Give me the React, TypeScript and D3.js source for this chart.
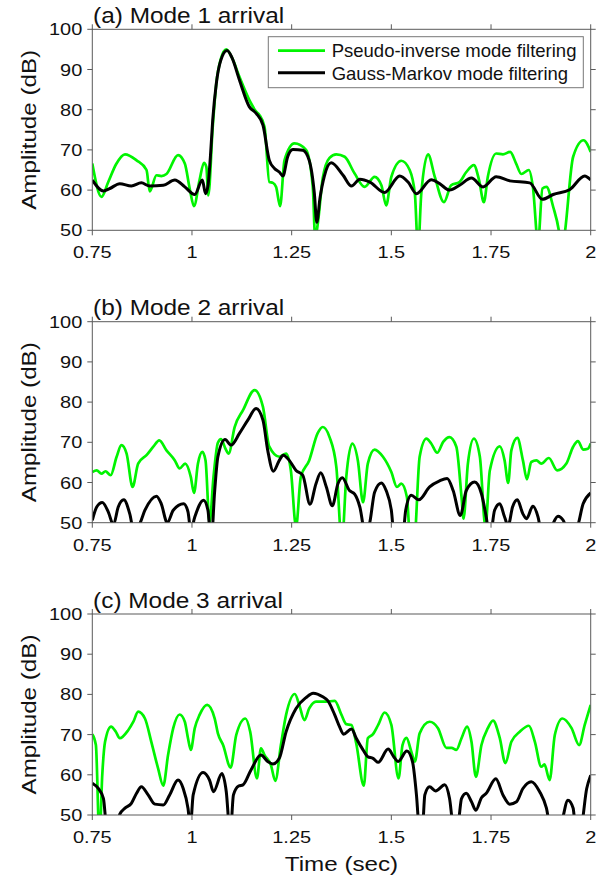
import React from "react";
import * as d3 from "d3";

type P = [number, number];

const xTicks = [0.75, 1, 1.25, 1.5, 1.75, 2];
const xTickLabels = ["0.75", "1", "1.25", "1.5", "1.75", "2"];
const yTicks = [50, 60, 70, 80, 90, 100];
const panelTitles = ["(a) Mode 1 arrival", "(b) Mode 2 arrival", "(c) Mode 3 arrival"];
const seriesNames = ["Pseudo-inverse mode filtering", "Gauss-Markov mode filtering"];

const aPseudo: P[] = [[0.75,66.6],[0.773,58.3],[0.79,62],[0.81,66.5],[0.832,68.9],[0.861,67.4],[0.886,65],[0.894,59.7],[0.911,63.7],[0.923,63.5],[0.936,64],[0.965,68.7],[0.982,66.6],[0.995,60],[1.005,56],[1.019,62.5],[1.03,66.8],[1.036,65.8],[1.041,58.7],[1.052,75.7],[1.061,86.5],[1.072,92.5],[1.086,95],[1.1,93],[1.119,88.2],[1.148,81.6],[1.161,79.5],[1.169,78.7],[1.182,75.7],[1.194,62],[1.203,61.8],[1.211,60.8],[1.221,56],[1.232,67.4],[1.257,71.6],[1.286,70],[1.303,60.8],[1.309,48],[1.316,52],[1.328,63],[1.345,68],[1.362,68.9],[1.383,68.3],[1.408,64.1],[1.433,60.8],[1.458,63.3],[1.475,61.2],[1.487,56.2],[1.5,63.3],[1.525,67.3],[1.546,65],[1.559,59.1],[1.567,45],[1.575,59],[1.592,68.9],[1.609,63.3],[1.632,57],[1.65,61.2],[1.671,62],[1.688,64.5],[1.707,66.2],[1.72,62.5],[1.732,57],[1.742,63.3],[1.763,69.1],[1.78,68.9],[1.798,69.5],[1.813,66.6],[1.826,64],[1.845,65],[1.855,60.8],[1.868,47],[1.879,60.4],[1.889,60.8],[1.906,55.8],[1.92,50],[1.928,44],[1.936,50],[1.956,68.3],[1.982,72.4],[2.0,69.5]];
const aGauss: P[] = [[0.75,62.5],[0.778,59.8],[0.794,60.4],[0.819,61.6],[0.848,61],[0.873,61.8],[0.894,61],[0.928,61.2],[0.957,62.5],[0.982,60.8],[1.007,58.9],[1.026,62.5],[1.034,59.1],[1.04,61],[1.046,68],[1.052,77.4],[1.061,86.5],[1.072,92.2],[1.088,94.7],[1.1,93],[1.119,87.4],[1.144,80.7],[1.161,79.1],[1.178,76.2],[1.194,67.4],[1.207,65.4],[1.219,64.5],[1.228,63.5],[1.24,68.3],[1.253,70.1],[1.278,69.9],[1.294,67.4],[1.307,59.1],[1.313,52],[1.321,58],[1.332,63.5],[1.349,66.8],[1.379,63.7],[1.4,61],[1.421,62.7],[1.446,62],[1.483,59.4],[1.521,63.5],[1.542,62],[1.563,59.1],[1.6,62.6],[1.621,61.6],[1.646,60],[1.671,61.2],[1.701,63],[1.73,60.8],[1.763,63.3],[1.797,62.3],[1.847,61.8],[1.879,57.7],[1.906,58.9],[1.947,60.1],[1.985,63.5],[2.0,62.5]];

const bPseudo: P[] = [[0.75,62.6],[0.761,63],[0.773,62.2],[0.783,62.8],[0.796,61.8],[0.811,66.4],[0.823,69.3],[0.836,67.2],[0.851,58.9],[0.865,64.7],[0.886,66.8],[0.903,68.9],[0.918,70.5],[0.936,68],[0.957,65.5],[0.969,63.5],[0.983,64.7],[0.997,61.4],[1.005,57.4],[1.015,64.7],[1.026,67.6],[1.034,65.5],[1.044,50],[1.054,61.4],[1.065,69.9],[1.073,70.8],[1.084,68.4],[1.092,67.2],[1.107,73.8],[1.128,78],[1.157,83],[1.178,78.8],[1.194,68.9],[1.219,66.4],[1.236,67.2],[1.248,63],[1.261,49],[1.273,61.4],[1.294,65.5],[1.315,72.2],[1.328,73.8],[1.345,71.3],[1.362,63.9],[1.376,45],[1.387,61.4],[1.402,69.7],[1.416,65.5],[1.429,55.1],[1.441,64.7],[1.458,68.2],[1.479,66.4],[1.5,62.6],[1.514,58.9],[1.525,59.7],[1.539,56.4],[1.548,45],[1.557,45],[1.571,66.4],[1.588,70.9],[1.6,69.7],[1.615,67.4],[1.63,70.1],[1.646,71.3],[1.663,68.9],[1.676,56.4],[1.681,51],[1.692,64.7],[1.707,70.9],[1.722,66.4],[1.736,49],[1.747,63],[1.772,69],[1.784,65.5],[1.793,59.9],[1.801,68],[1.816,71.1],[1.83,65.5],[1.84,60.8],[1.851,65.1],[1.864,65.5],[1.876,64.7],[1.895,66.1],[1.916,63],[1.939,64.7],[1.956,68.9],[1.968,70.3],[1.981,68.2],[1.993,68.4],[2.0,69.7]];
const bGauss: P[] = [[0.75,50.6],[0.761,53.9],[0.775,55],[0.79,52.7],[0.803,49.5],[0.815,53.9],[0.829,55.7],[0.844,52.2],[0.854,48],[0.868,49.5],[0.882,53.1],[0.911,56.6],[0.923,54.7],[0.938,50],[0.953,53.1],[0.979,54.7],[0.99,52.7],[0.997,48],[1.007,51.4],[1.029,55.6],[1.04,53.1],[1.048,45],[1.057,58],[1.065,66.4],[1.083,70.7],[1.098,69.3],[1.119,72.2],[1.14,75.5],[1.161,78.4],[1.178,75.5],[1.19,68],[1.204,62.8],[1.219,65.5],[1.229,66.8],[1.244,65.5],[1.261,63],[1.278,61.8],[1.296,54.6],[1.311,59.7],[1.323,62.4],[1.337,58.9],[1.352,54.2],[1.366,59.7],[1.377,61.2],[1.395,58],[1.408,57.1],[1.421,53.9],[1.437,46],[1.447,50.6],[1.458,57.6],[1.475,59.9],[1.487,58],[1.5,53.1],[1.508,46],[1.528,46],[1.536,53.1],[1.55,56.8],[1.569,55.7],[1.596,58.9],[1.621,60.4],[1.64,61],[1.655,58],[1.673,51.8],[1.688,58],[1.709,60.1],[1.726,57.2],[1.738,51.4],[1.747,46],[1.759,53.1],[1.772,54.7],[1.784,51.4],[1.793,49.3],[1.804,53.9],[1.816,55.7],[1.83,52.2],[1.839,51],[1.855,54.1],[1.868,51.4],[1.876,48],[1.897,48.5],[1.918,51.6],[1.931,50.6],[1.943,48],[1.964,48.5],[1.981,54.7],[2.0,57.4]];

const cPseudo: P[] = [[0.75,70.1],[0.759,67.4],[0.768,44],[0.775,60],[0.782,68.2],[0.797,72],[0.809,70.7],[0.819,69.1],[0.84,71.1],[0.853,73.2],[0.865,75.7],[0.882,74],[0.898,68.2],[0.915,61.6],[0.928,57.3],[0.94,64.9],[0.953,71.6],[0.969,75],[0.982,73.2],[0.99,69.1],[0.997,66.2],[1.007,71.6],[1.019,74.9],[1.038,77.4],[1.057,74],[1.065,70.3],[1.078,67.4],[1.097,61.8],[1.111,69.9],[1.134,74],[1.146,70.7],[1.163,59.1],[1.173,66.6],[1.182,64.9],[1.198,62.4],[1.209,58.5],[1.223,67.4],[1.236,74.9],[1.258,80.1],[1.269,77.4],[1.282,73.6],[1.294,76.5],[1.311,78.2],[1.336,78.2],[1.358,78.4],[1.375,74.9],[1.387,72.6],[1.4,72.4],[1.412,67.8],[1.431,57.3],[1.441,69.1],[1.454,70.1],[1.467,72.4],[1.483,75.5],[1.5,72.4],[1.518,59.1],[1.528,67.4],[1.538,69.2],[1.55,65.8],[1.559,63.3],[1.571,70.3],[1.596,73.2],[1.617,71.6],[1.638,66.7],[1.651,66.7],[1.663,66.2],[1.676,69.1],[1.69,72],[1.701,68.2],[1.712,59.5],[1.726,67.4],[1.742,71.6],[1.755,73.5],[1.772,69.1],[1.786,62.9],[1.801,68.2],[1.822,70.7],[1.845,72.2],[1.86,68.2],[1.876,62],[1.884,62.6],[1.897,58.7],[1.91,69.9],[1.929,74],[1.952,71.6],[1.971,67.4],[1.985,72.4],[2.0,77.4]];
const cGauss: P[] = [[0.75,57.9],[0.765,56.6],[0.778,54.1],[0.786,47],[0.81,46],[0.819,50.2],[0.832,51.7],[0.848,52.9],[0.861,55.4],[0.873,57],[0.89,55],[0.907,52.7],[0.928,52.5],[0.944,55],[0.965,58.7],[0.978,56.6],[0.99,51.7],[0.996,47],[1.003,55],[1.028,60.6],[1.044,58.7],[1.054,55.8],[1.075,60.3],[1.086,55.8],[1.096,45],[1.104,55],[1.117,57.2],[1.128,57.5],[1.148,61.2],[1.173,64.9],[1.19,63.3],[1.203,62.7],[1.219,64.1],[1.236,70.7],[1.261,76.5],[1.286,79.2],[1.304,80.3],[1.328,79.4],[1.341,78.4],[1.358,74.9],[1.37,72],[1.38,70.1],[1.4,71.4],[1.412,69.1],[1.429,66.2],[1.441,64.5],[1.454,64.1],[1.467,63.1],[1.492,66.4],[1.506,64.5],[1.517,63.3],[1.539,65.9],[1.553,63.3],[1.563,55],[1.569,48],[1.578,47],[1.584,55],[1.596,57],[1.611,56],[1.634,57.5],[1.646,54.1],[1.655,48],[1.667,48],[1.676,54.1],[1.688,55.4],[1.701,53.3],[1.712,51.2],[1.726,54.3],[1.738,55.4],[1.762,59],[1.78,55],[1.797,52.7],[1.814,53.3],[1.83,56.6],[1.851,58.3],[1.872,55.8],[1.889,51.7],[1.899,47],[1.922,47],[1.943,53.7],[1.956,51.7],[1.962,47],[1.975,47],[1.99,56.6],[2.0,59.9]];

const pseudoSeries = [aPseudo, bPseudo, cPseudo];
const gaussSeries = [aGauss, bGauss, cGauss];

const W = 600, H = 877;
const LEFT = 92.3, RIGHT = 590.7;
const PANEL_TOPS = [29.3, 321.7, 614];
const PANEL_H = 201;
const GREEN = "#00f400";
const AXIS = "#5a5a5a";
const FONT = "'Liberation Sans', Arial, sans-serif";
const SX = 1.21;
const SX_TITLE = 1.14;

export default function App() {
  const x = d3.scaleLinear().domain([0.75, 2]).range([LEFT, RIGHT]);
  return (
    <svg width={W} height={H} style={{ position: "absolute", left: 0, top: 0, display: "block", background: "#fff" }} fontFamily={FONT}>
      <rect x={0} y={0} width={W} height={H} fill="#fff" />
      {PANEL_TOPS.map((top, i) => {
        const bottom = top + PANEL_H;
        const y = d3.scaleLinear().domain([50, 100]).range([bottom, top]);
        const line = d3.line<P>().x(d => x(d[0])).y(d => y(d[1])).curve(d3.curveMonotoneX);
        const cid = `clip${i}`;
        return (
          <g key={i}>
            <defs>
              <clipPath id={cid}>
                <rect x={LEFT} y={top} width={RIGHT - LEFT} height={PANEL_H} />
              </clipPath>
            </defs>
            <g clipPath={`url(#${cid})`}>
              <path d={line(pseudoSeries[i]) || ""} fill="none" stroke={GREEN} strokeWidth={2.7} strokeLinejoin="round" />
              <path d={line(gaussSeries[i]) || ""} fill="none" stroke="#000" strokeWidth={3} strokeLinejoin="round" />
            </g>
            <rect x={LEFT} y={top} width={RIGHT - LEFT} height={PANEL_H} fill="none" stroke={AXIS} strokeWidth={1} />
            {xTicks.map((t, k) => (
              <g key={"xt" + k}>
                <line x1={x(t)} x2={x(t)} y1={bottom} y2={bottom + 5} stroke={AXIS} />
                <line x1={x(t)} x2={x(t)} y1={top} y2={top - 5} stroke={AXIS} />
                <text transform={`translate(${x(t)},${bottom + 28}) scale(${SX},1)`} textAnchor="middle" fontSize={16.5} fill="#111">{xTickLabels[k]}</text>
              </g>
            ))}
            {yTicks.map((v, k) => (
              <g key={"yt" + k}>
                <line x1={LEFT - 5} x2={LEFT} y1={y(v)} y2={y(v)} stroke={AXIS} />
                <line x1={RIGHT} x2={RIGHT + 5} y1={y(v)} y2={y(v)} stroke={AXIS} />
                <text transform={`translate(${LEFT - 10},${y(v) + 6}) scale(${SX},1)`} textAnchor="end" fontSize={16.5} fill="#111">{v}</text>
              </g>
            ))}
            <text transform={`translate(${LEFT + 0.8},${top - 6.5}) scale(${SX_TITLE},1)`} fontSize={21.4} fill="#111">{panelTitles[i]}</text>
            <text transform={`translate(36,${(top + bottom) / 2}) rotate(-90) scale(${SX},1)`} textAnchor="middle" fontSize={20} fill="#111">Amplitude (dB)</text>
            {i === 0 && (
              <g>
                <rect x={268.3} y={36.7} width={315} height={51} fill="#fff" stroke="#777" strokeWidth={1} />
                <line x1={278} x2={325} y1={50.7} y2={50.7} stroke={GREEN} strokeWidth={2.7} />
                <line x1={278} x2={325} y1={72.7} y2={72.7} stroke="#000" strokeWidth={3} />
                <text x={331.7} y={57.3} fontSize={18.5} fill="#111">{seriesNames[0]}</text>
                <text x={331.7} y={79.5} fontSize={18.5} fill="#111">{seriesNames[1]}</text>
              </g>
            )}
          </g>
        );
      })}
      <text transform={`translate(${(LEFT + RIGHT) / 2},871) scale(${SX},1)`} textAnchor="middle" fontSize={20} fill="#111">Time (sec)</text>
    </svg>
  );
}
